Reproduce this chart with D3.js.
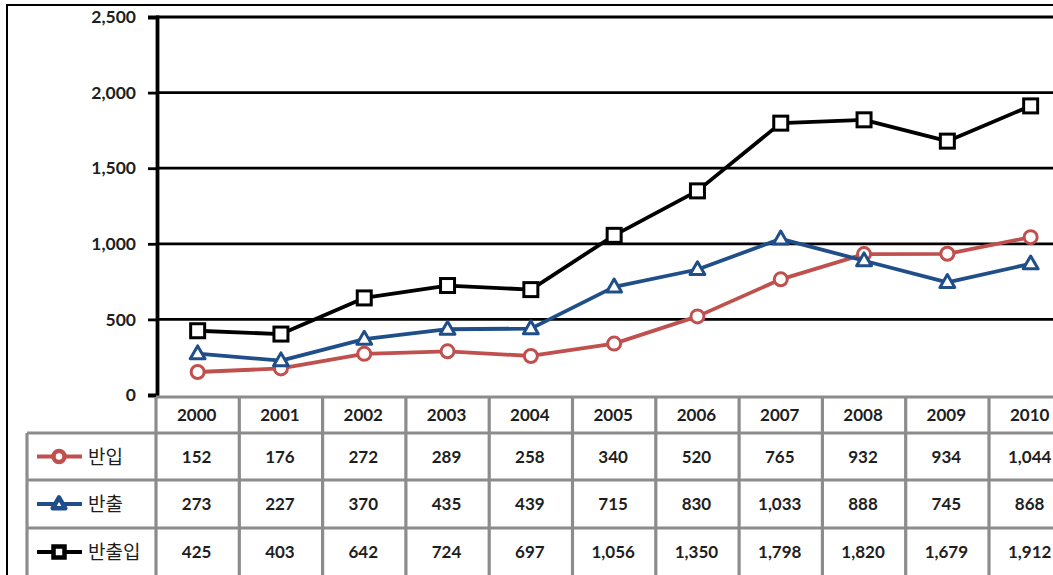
<!DOCTYPE html>
<html>
<head>
<meta charset="utf-8">
<script src="https://cdn.jsdelivr.net/npm/d3@7"></script>
<style>
  html, body { margin: 0; padding: 0; background: #fff; }
  svg { display: block; }
</style>
</head>
<body>
<svg id="chart" width="1053" height="575"></svg>
<script>
// Yearly values (units as in the table)
const years = ["2000","2001","2002","2003","2004","2005","2006","2007","2008","2009","2010"];
const seriesNames = ["반입", "반출", "반출입"];
const inbound  = [152, 176, 272, 289, 258, 340, 520, 765, 932, 934, 1044];
const outbound = [273, 227, 370, 435, 439, 715, 830, 1033, 888, 745, 868];
const total    = [425, 403, 642, 724, 697, 1056, 1350, 1798, 1820, 1679, 1912];
const yTicks   = [0, 500, 1000, 1500, 2000, 2500];

const series = [
  { name: seriesNames[0], values: inbound,  color: "#c0504d", marker: "circle" },
  { name: seriesNames[1], values: outbound, color: "#1f4e89", marker: "triangle" },
  { name: seriesNames[2], values: total,    color: "#000000", marker: "square" }
];

const svg = d3.select("#chart");
const W = 1053, H = 575;
const font = "Lato, 'Open Sans', sans-serif";
const krFont = "'Noto Sans CJK KR', sans-serif";
const textColor = "#1e1e1e";

// Plot geometry
const plotLeft = 156, colW = 83.3;
const plotRight = plotLeft + colW * years.length;
const plotTop = 17, plotBottom = 395;

const x = d3.scaleBand().domain(years).range([plotLeft, plotRight]).padding(0);
const y = d3.scaleLinear().domain([0, 2500]).range([plotBottom, plotTop]);

// Outer frame
svg.append("rect")
  .attr("x", 7).attr("y", 5).attr("width", W + 20).attr("height", H + 20)
  .attr("fill", "none").attr("stroke", "#000").attr("stroke-width", 2);

// Horizontal gridlines
svg.append("g").selectAll("line")
  .data(yTicks.filter(d => d > 0))
  .join("line")
  .attr("x1", plotLeft).attr("x2", W + 10)
  .attr("y1", d => y(d)).attr("y2", d => y(d))
  .attr("stroke", "#000").attr("stroke-width", 2.8);

// Y axis
const yAxis = d3.axisLeft(y).tickValues(yTicks).tickFormat(d3.format(",")).tickSize(9).tickPadding(12);
const gy = svg.append("g").attr("transform", `translate(${plotLeft + 1},0)`).call(yAxis);
gy.select(".domain").attr("stroke", "#000").attr("stroke-width", 3.8);
gy.selectAll(".tick line").attr("stroke", "#000").attr("stroke-width", 2.8);
gy.selectAll(".tick text")
  .attr("font-family", font).attr("font-size", 17.5).attr("font-weight", 700)
  .attr("fill", textColor);

// Lines
const line = d3.line()
  .x((d, i) => x(years[i]) + x.bandwidth() / 2)
  .y(d => y(d));

function drawMarker(g, type, color, size, sw) {
  if (type === "circle") {
    g.append("circle").attr("r", size * 0.5).attr("fill", "#fff")
      .attr("stroke", color).attr("stroke-width", sw);
  } else if (type === "triangle") {
    const s = size * 0.6;
    g.append("path").attr("d", `M0,${-s} L${s * 0.95},${s * 0.65} L${-s * 0.95},${s * 0.65} Z`)
      .attr("fill", "#fff").attr("stroke", color).attr("stroke-width", sw)
      .attr("stroke-linejoin", "round");
  } else {
    const s = size * 0.5;
    g.append("rect").attr("x", -s).attr("y", -s).attr("width", 2 * s).attr("height", 2 * s)
      .attr("fill", "#fff").attr("stroke", color).attr("stroke-width", sw);
  }
}

series.forEach(s => {
  svg.append("path")
    .datum(s.values)
    .attr("d", line)
    .attr("fill", "none").attr("stroke", s.color).attr("stroke-width", 3.8)
    .attr("stroke-linejoin", "round");
  s.values.forEach((v, i) => {
    const g = svg.append("g")
      .attr("transform", `translate(${x(years[i]) + x.bandwidth() / 2},${y(v)})`);
    drawMarker(g, s.marker, s.color, s.marker === "square" ? 14 : 13, 3);
  });
});

// Data table below the plot
const rowTops = [397, 433, 480, 528, 576];
const tableLeft = 27;
const grid = svg.append("g").attr("stroke", "#8c8c8c").attr("stroke-width", 3.2);

// Horizontal rules
grid.append("line").attr("x1", plotLeft).attr("x2", W + 10).attr("y1", rowTops[0]).attr("y2", rowTops[0]);
for (let r = 1; r < rowTops.length - 1; r++) {
  grid.append("line").attr("x1", tableLeft).attr("x2", W + 10).attr("y1", rowTops[r]).attr("y2", rowTops[r]);
}
// Vertical rules
grid.append("line").attr("x1", tableLeft).attr("x2", tableLeft).attr("y1", rowTops[1]).attr("y2", H + 5);
years.forEach(yr => {
  grid.append("line").attr("x1", x(yr)).attr("x2", x(yr))
    .attr("y1", rowTops[0]).attr("y2", H + 5);
});
grid.append("line").attr("x1", plotRight).attr("x2", plotRight).attr("y1", rowTops[0]).attr("y2", H + 5);

// Header row (years)
svg.append("g").selectAll("text")
  .data(years).join("text")
  .attr("x", d => x(d) + x.bandwidth() / 2 - 1)
  .attr("y", (rowTops[0] + rowTops[1]) / 2 + 6)
  .attr("text-anchor", "middle")
  .attr("font-family", font).attr("font-size", 17).attr("font-weight", 700)
  .attr("fill", textColor)
  .text(d => d);

// Series rows
const fmt = d3.format(",");
series.forEach((s, r) => {
  const cy = (rowTops[r + 1] + rowTops[r + 2]) / 2;
  svg.append("g").selectAll("text")
    .data(s.values).join("text")
    .attr("x", (d, i) => x(years[i]) + x.bandwidth() / 2 - 1)
    .attr("y", cy + 6)
    .attr("text-anchor", "middle")
    .attr("font-family", font).attr("font-size", 17).attr("font-weight", 700)
    .attr("fill", textColor)
    .text(d => fmt(d));

  // Legend key: line segment with marker
  svg.append("line").attr("x1", 37).attr("x2", 82).attr("y1", cy).attr("y2", cy)
    .attr("stroke", s.color).attr("stroke-width", 4);
  const g = svg.append("g").attr("transform", `translate(59,${cy})`);
  drawMarker(g, s.marker, s.color, 11, 4.5);
  svg.append("text")
    .attr("x", 88).attr("y", cy + 7)
    .attr("font-family", krFont).attr("font-size", 19)
    .attr("fill", textColor)
    .text(s.name);
});
</script>
</body>
</html>
